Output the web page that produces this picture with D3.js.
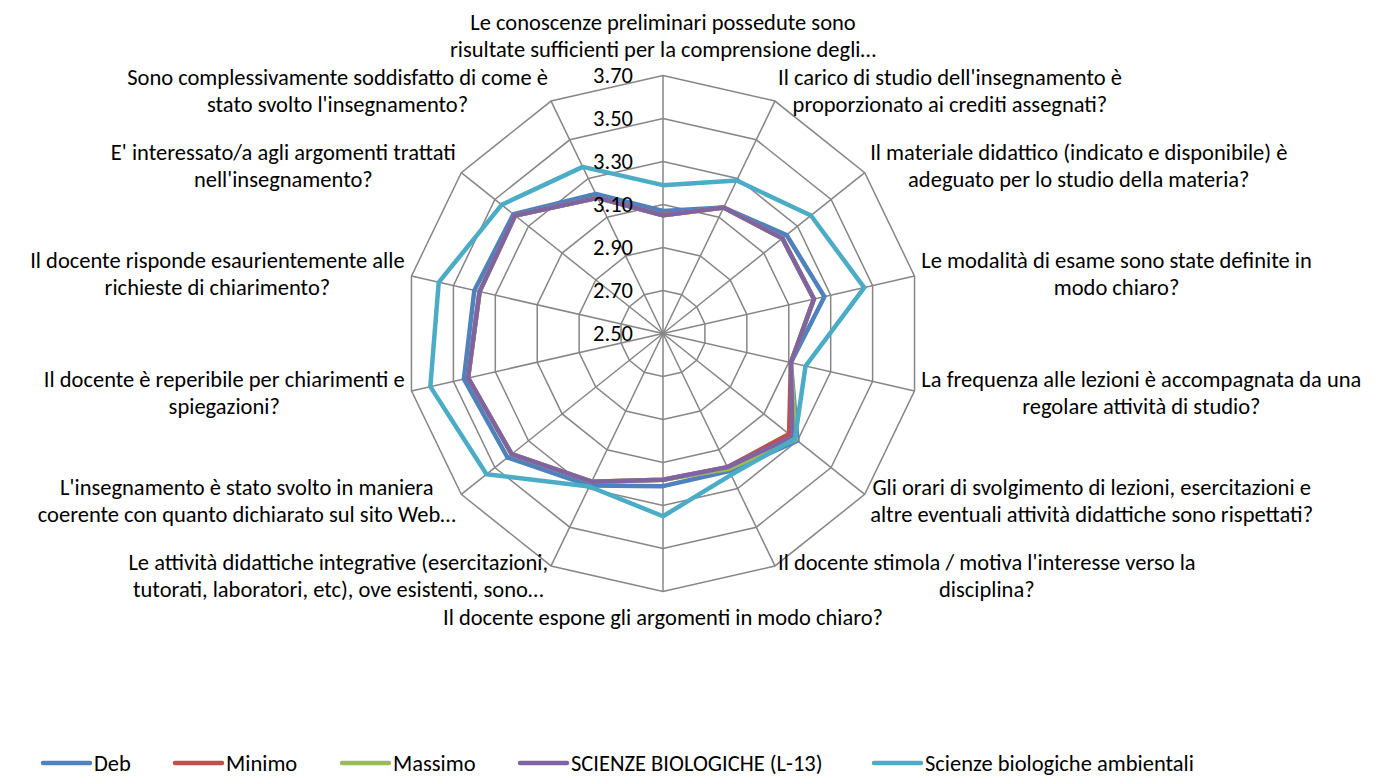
<!DOCTYPE html>
<html>
<head>
<meta charset="utf-8">
<script src="https://cdn.jsdelivr.net/npm/d3@7"></script>
<style>
  body { margin: 0; background: #fff; }
  svg { display: block; }
  text { font-family: Carlito, Calibri, Lato, sans-serif; fill: #000; }
</style>
</head>
<body>
<svg id="chart" width="1381" height="776"></svg>
<script>
// axis labels (one array per category, one entry per text line)
const categories = [
  ["Le conoscenze preliminari possedute sono", "risultate sufficienti per la comprensione degli…"],
  ["Il carico di studio dell'insegnamento è", "proporzionato ai crediti assegnati?"],
  ["Il materiale didattico (indicato e disponibile) è", "adeguato per lo studio della materia?"],
  ["Le modalità di esame sono state definite in", "modo chiaro?"],
  ["La frequenza alle lezioni è accompagnata da una", "regolare attività di studio?"],
  ["Gli orari di svolgimento di lezioni, esercitazioni e", "altre eventuali attività didattiche sono rispettati?"],
  ["Il docente stimola / motiva l'interesse verso la", "disciplina?"],
  ["Il docente espone gli argomenti in modo chiaro?"],
  ["Le attività didattiche integrative (esercitazioni,", "tutorati, laboratori, etc), ove esistenti, sono…"],
  ["L'insegnamento è stato svolto in maniera", "coerente con quanto dichiarato sul sito Web…"],
  ["Il docente è reperibile per chiarimenti e", "spiegazioni?"],
  ["Il docente risponde esaurientemente alle", "richieste di chiarimento?"],
  ["E' interessato/a agli argomenti trattati", "nell'insegnamento?"],
  ["Sono complessivamente soddisfatto di come è", "stato svolto l'insegnamento?"]
];

const tickValues = [2.5, 2.7, 2.9, 3.1, 3.3, 3.5, 3.7];

// series values
const deb      = [3.07, 3.15, 3.235, 3.27, 3.11, 3.30, 3.21, 3.21, 3.285, 3.425, 3.45, 3.40, 3.39, 3.22];
const minimo   = [3.05, 3.15, 3.21, 3.22, 3.11, 3.25, 3.19, 3.18, 3.265, 3.40, 3.43, 3.375, 3.38, 3.20];
const massimo  = [3.05, 3.15, 3.21, 3.22, 3.11, 3.29, 3.20, 3.18, 3.265, 3.40, 3.43, 3.375, 3.38, 3.20];
const l13      = [3.05, 3.15, 3.21, 3.22, 3.11, 3.27, 3.19, 3.18, 3.265, 3.40, 3.43, 3.375, 3.38, 3.20];
const ambient  = [3.19, 3.29, 3.38, 3.46, 3.18, 3.285, 3.23, 3.35, 3.29, 3.55, 3.61, 3.57, 3.46, 3.36];

const seriesNames = ["Deb", "Minimo", "Massimo", "SCIENZE BIOLOGICHE (L-13)", "Scienze biologiche ambientali"];
const seriesColors = ["#4F81BD", "#C0504D", "#9BBB59", "#8064A2", "#4BACC6"];
const seriesValues = [deb, minimo, massimo, l13, ambient];

const svg = d3.select("#chart");
const cx = 663, cy = 333.5, R = 258;
const fontSize = 22.5;
const lineH = 27;

// radial scale
const rScale = d3.scaleLinear().domain([2.5, 3.7]).range([0, R]);
const n = categories.length;
const angle = i => i * 2 * Math.PI / n;
const pt = (i, v) => [cx + rScale(v) * Math.sin(angle(i)), cy - rScale(v) * Math.cos(angle(i))];

const g = svg.append("g");

// grid rings
tickValues.slice(1).forEach(t => {
  g.append("polygon")
    .attr("points", d3.range(n).map(i => pt(i, t).join(",")).join(" "))
    .attr("fill", "none")
    .attr("stroke", "#868686")
    .attr("stroke-width", 1.5);
});

// spokes
g.selectAll("line.spoke")
  .data(d3.range(n))
  .enter()
  .append("line")
  .attr("class", "spoke")
  .attr("x1", cx).attr("y1", cy)
  .attr("x2", i => pt(i, 3.7)[0])
  .attr("y2", i => pt(i, 3.7)[1])
  .attr("stroke", "#868686")
  .attr("stroke-width", 1.5);

// series lines
const line = d3.line().curve(d3.curveLinearClosed);
seriesValues.forEach((vals, s) => {
  g.append("path")
    .attr("d", line(vals.map((v, i) => pt(i, v))))
    .attr("fill", "none")
    .attr("stroke", seriesColors[s])
    .attr("stroke-width", 4.5)
    .attr("stroke-linejoin", "round");
});

// tick labels
g.selectAll("text.tick")
  .data(tickValues)
  .enter()
  .append("text")
  .attr("class", "tick")
  .attr("x", cx - 30)
  .attr("y", d => cy - rScale(d))
  .attr("text-anchor", "end")
  .attr("dominant-baseline", "central")
  .style("font-size", fontSize + "px")
  .text(d => d.toFixed(2));

// category labels
categories.forEach((lines, i) => {
  const a = angle(i);
  const s = Math.sin(a), c = Math.cos(a);
  const ax = cx + (R + 7) * s;
  const ay = cy - (R + 7) * c;
  const lab = svg.append("g");
  const texts = lines.map(t => lab.append("text")
    .style("font-size", fontSize + "px")
    .attr("text-anchor", "middle")
    .attr("dominant-baseline", "central")
    .text(t));
  const w = d3.max(texts, t => t.node().getComputedTextLength());
  let bx, firstY;
  if (Math.abs(s) < 0.05) {
    bx = ax;
    if (c > 0) firstY = ay - 19.5 - (lines.length - 1) * lineH;
    else firstY = ay + 18.5;
  } else {
    bx = s > 0 ? ax + w / 2 : ax - w / 2;
    const my = ay - 4 * c;
    firstY = my - (lines.length - 1) * lineH / 2;
  }
  texts.forEach((t, k) => t.attr("x", bx).attr("y", firstY + k * lineH));
});

// legend
const legendX = [43, 175, 342, 520, 874];
const legend = svg.append("g");
seriesNames.forEach((name, s) => {
  legend.append("line")
    .attr("x1", legendX[s]).attr("x2", legendX[s] + 47)
    .attr("y1", 763).attr("y2", 763)
    .attr("stroke", seriesColors[s])
    .attr("stroke-width", 4.5)
    .attr("stroke-linecap", "round");
  legend.append("text")
    .attr("x", legendX[s] + 51)
    .attr("y", 763)
    .attr("dominant-baseline", "central")
    .style("font-size", fontSize + "px")
    .text(name);
});
</script>
</body>
</html>
